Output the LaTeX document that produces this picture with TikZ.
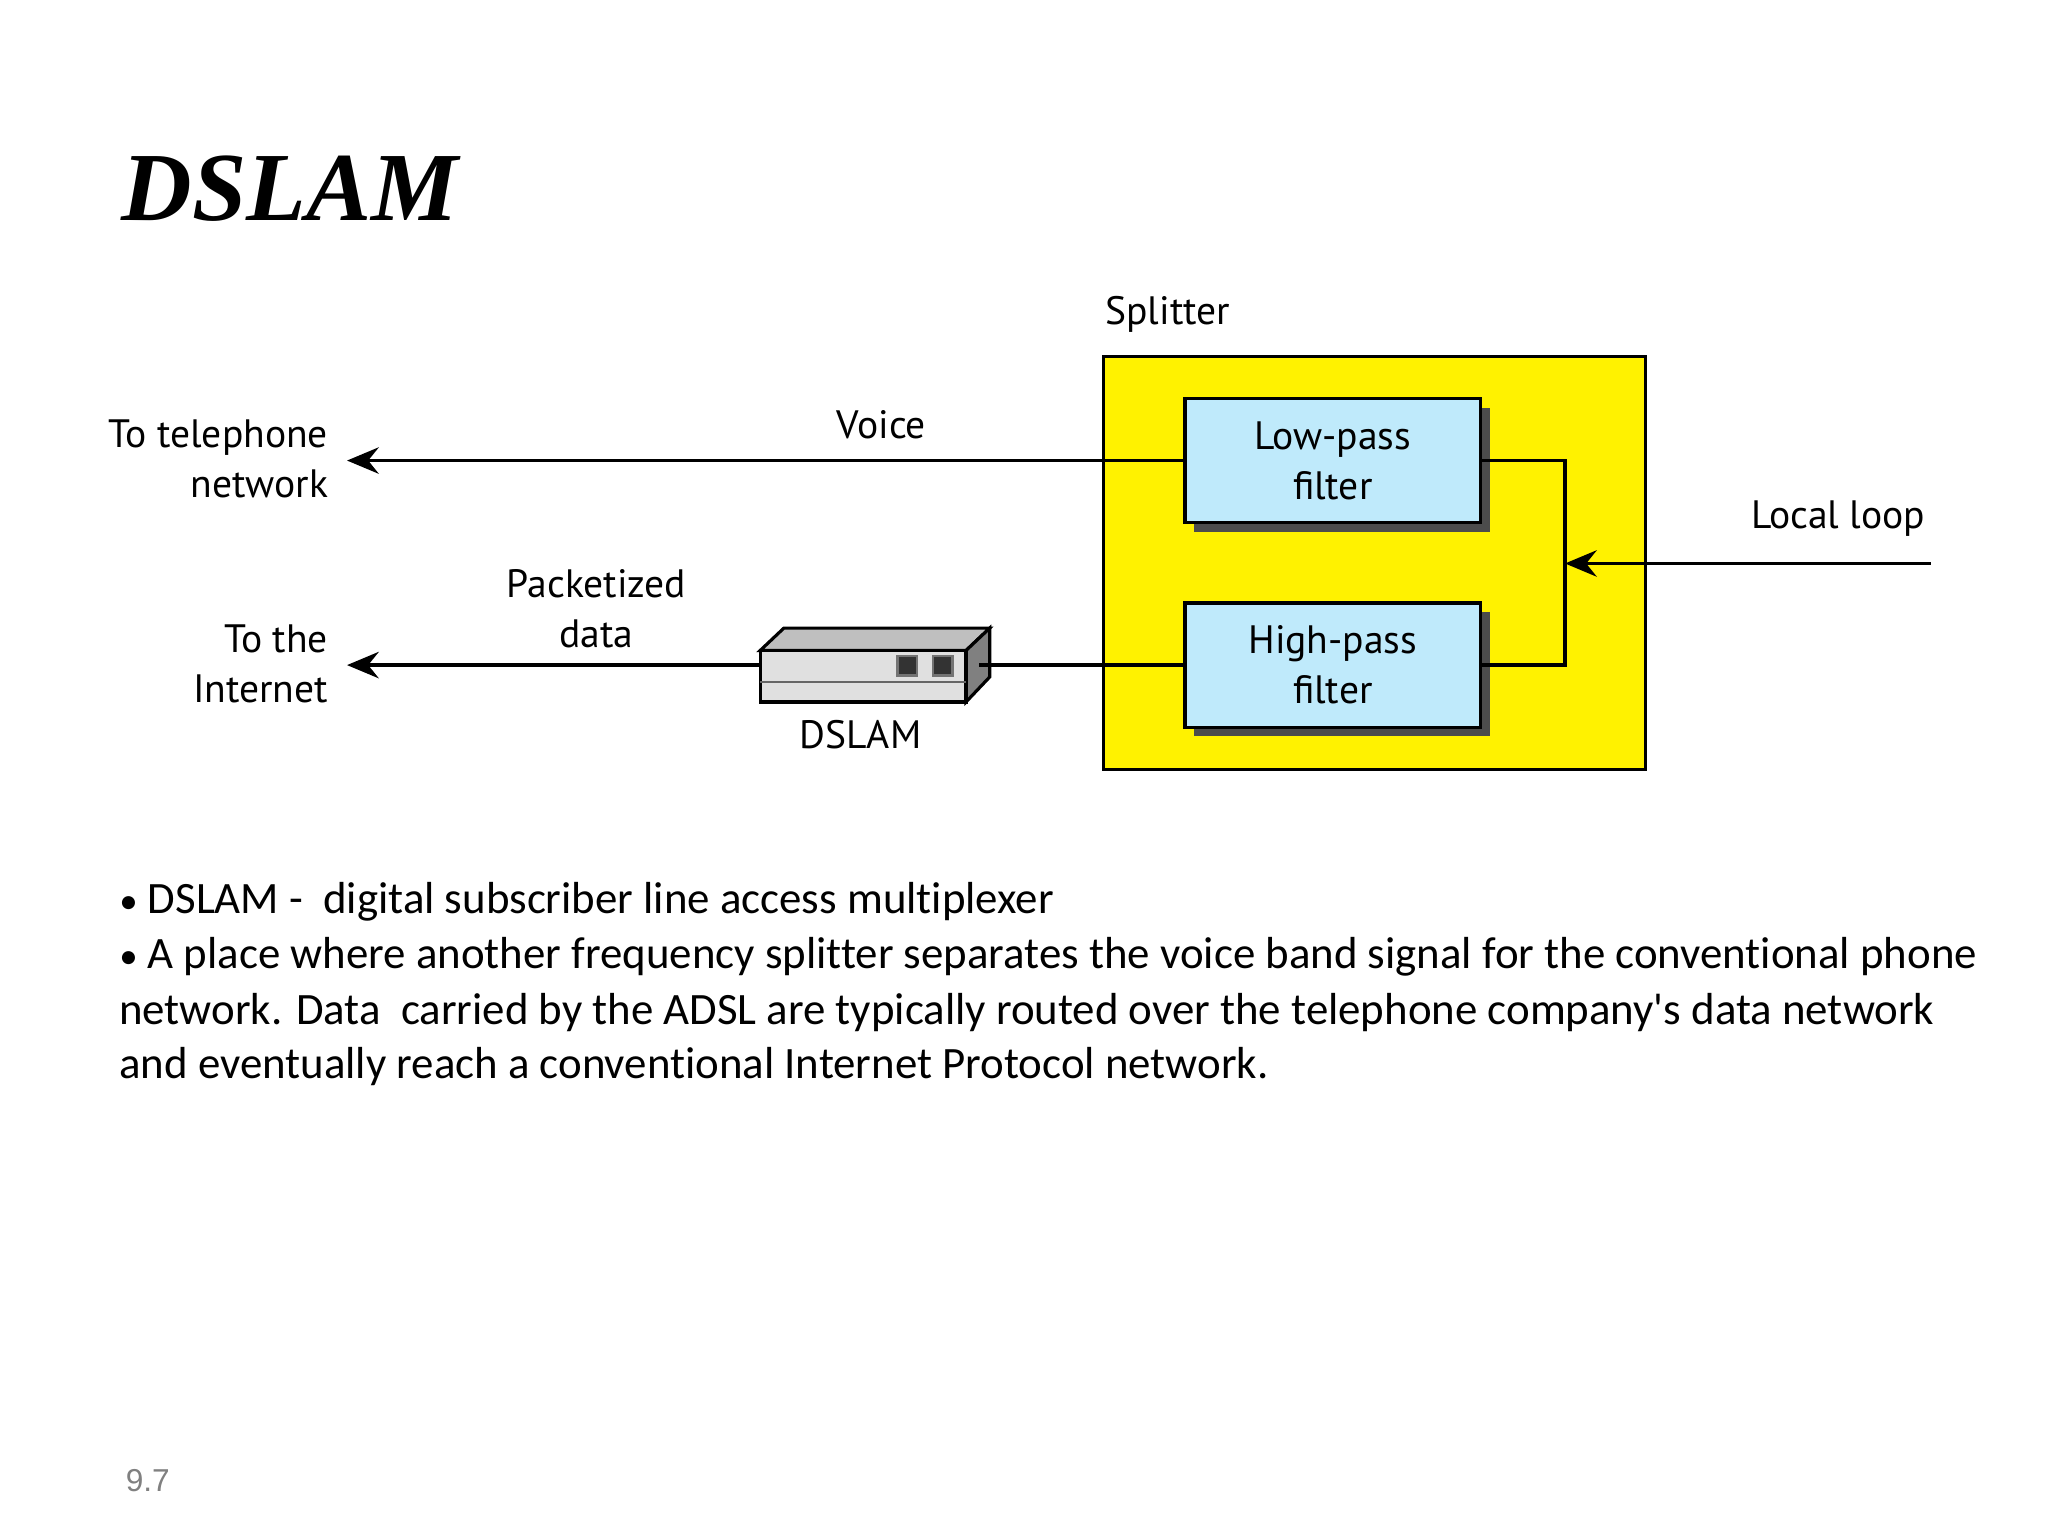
\documentclass[tikz,border=0pt]{standalone}
\usepackage{fontspec}
\setmainfont{Carlito}[Ligatures={NoCommon}]
\newfontfamily\lab{PT Sans}
\newfontfamily\ttl{Liberation Serif}
\newfontfamily\pn{Liberation Sans}
\usetikzlibrary{arrows.meta}
\begin{document}
\begin{tikzpicture}[x=0.5pt,y=-0.5pt,
  lbl/.style={font=\lab\fontsize{15}{19}\selectfont,inner sep=0pt},
  filt/.style={draw=black,line width=1.2pt,fill=cyan!25!white,align=center,font=\lab\fontsize{15}{19}\selectfont,minimum width=112pt,minimum height=47pt,inner sep=0pt},
  wire/.style={line width=1.4pt},
  arr/.style={wire,-{Stealth[length=12pt,width=10pt,inset=4pt]}},
  body/.style={font=\fontsize{17}{21}\selectfont,anchor=west,inner sep=0pt}]
\useasboundingbox (0,0) rectangle (1552,1164);
\node[font=\ttl\bfseries\itshape\fontsize{37}{42}\selectfont,anchor=west,inner sep=0pt] (title) at (92,143) {DSLAM};
% splitter
\node[draw=black,line width=1.2pt,fill=yellow,minimum width=205.5pt,minimum height=156.5pt,inner sep=0pt] (spl) at (1041.5,426.5) {};
\node[lbl] (spll) at (885,238) {Splitter};
\fill[black!70] (905,309) rectangle (1129,403);
\fill[black!70] (905,464) rectangle (1129,558);
\node[filt] (lp) at (1010,349) {Low-pass\\filter};
\node[filt] (hp) at (1010,504) {High-pass\\filter};
\coordinate (j) at (1186,427);
\coordinate (ll) at (1463,427);
\draw[wire] (lp.east) -| (j) |- (hp.east);
\draw[arr] (ll) -- (j);
\node[lbl] (lll) at (1393,393) {Local loop};
% voice
\node[lbl,align=right,anchor=east] (tel) at (249,348) {To telephone\\network};
\draw[arr] (lp.west) -- (263,349) coordinate (telarr);
\node[lbl] (voice) at (668,322) {Voice};
% data
\node[lbl,align=right,anchor=east] (inet) at (249,503) {To the\\Internet};
\node[lbl,align=center] (pk) at (452,461) {Packetized\\data};
% device
\coordinate (dl) at (576,504);
\coordinate (dr) at (750,504);
\draw[arr] (dl) -- (263,504);
\draw[wire] (hp.west) -- (dr);
\draw[line width=1.2pt,fill=black!25] (576,493) -- (594,476) -- (750,476) -- (732,493) -- cycle;
\draw[line width=1.2pt,fill=black!50] (732,493) -- (750,476) -- (750,513) -- (732,532) -- cycle;
\draw[line width=1.2pt,fill=black!12] (576,493) rectangle (732,532);
\draw[line width=0.8pt,black!60] (576,517) -- (732,517);
\draw[line width=1pt,draw=black!55,fill=black!80] (680,497) rectangle (695,512);
\draw[line width=1pt,draw=black!55,fill=black!80] (707,497) rectangle (722,512);
\draw[wire] (742,504) -- (dr);
\node[lbl] (dsl) at (652,557) {DSLAM};
% body
\node[body] (b1) at (90,683) {{\fontsize{14}{14}\selectfont•} DSLAM -\ \ digital subscriber line access multiplexer};
\node[body] (b2) at (90,725) {{\fontsize{14}{14}\selectfont•} A place where another frequency splitter separates the voice band signal for the conventional phone};
\node[body] (b3) at (90,767) {network. Data\ \ carried by the ADSL are typically routed over the telephone company\textquotesingle s data network};
\node[body] (b4) at (90,808) {and eventually reach a conventional Internet Protocol network.};
\node[font=\pn\fontsize{12}{14}\selectfont,text=black!50,inner sep=0pt] (pg) at (112,1122) {9.7};
\end{tikzpicture}
\end{document}
